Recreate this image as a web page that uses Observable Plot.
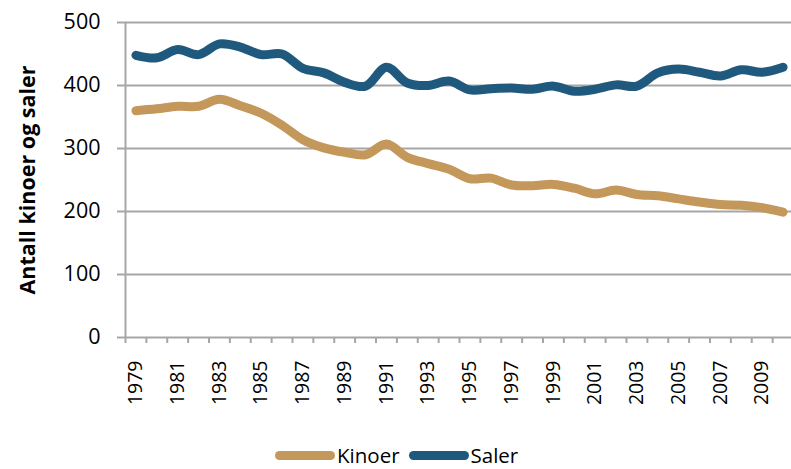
<!DOCTYPE html>
<html><head><meta charset="utf-8">
<script src="https://cdn.jsdelivr.net/npm/d3@7"></script>
<script src="https://cdn.jsdelivr.net/npm/@observablehq/plot@0.6"></script>
<style>
html,body{margin:0;padding:0;overflow:hidden;background:#fff;}
#chart{position:relative;width:791px;height:469px;font-family:"Open Sans",sans-serif;}
#legend{position:absolute;left:275px;top:442px;height:27px;display:flex;align-items:center;font-size:20.5px;line-height:27px;color:#000;}
.sw{width:60px;height:9px;border-radius:5px;margin-right:2px;}
.item{display:flex;align-items:center;margin-right:9px;height:27px;}
</style></head><body><div id="chart"></div>
<script>
const years = [1979,1980,1981,1982,1983,1984,1985,1986,1987,1988,1989,1990,1991,1992,1993,1994,1995,1996,1997,1998,1999,2000,2001,2002,2003,2004,2005,2006,2007,2008,2009,2010];
const kinoer = [360,363,367,367,378,368,356,337,314,301,294,290,307,286,276,267,252,253,242,241,243,237,228,234,227,225,220,215,211,210,206,199];
const saler  = [448,444,457,449,466,461,449,450,427,420,405,399,429,404,400,407,393,395,396,394,399,391,394,401,399,420,426,421,415,425,421,429];
const seriesNames = ["Kinoer","Saler"];
const seriesColors = ["#C4975A","#1F5A7E"];
const yTicks = [0,100,200,300,400,500];
const xLabelYears = [1979,1981,1983,1985,1987,1989,1991,1993,1995,1997,1999,2001,2003,2005,2007,2009];
const yTitle = "Antall kinoer og saler";

const data = [];
years.forEach((yr,i)=>{data.push({year:yr,value:kinoer[i],series:"Kinoer"});});
years.forEach((yr,i)=>{data.push({year:yr,value:saler[i],series:"Saler"});});
const boundaries = years.map(y=>y-0.5).concat([years[years.length-1]+0.5]);
const grid = "#A6A6A6";

const plot = Plot.plot({
  width: 791, height: 430,
  marginTop: 22, marginBottom: 93, marginLeft: 125, marginRight: 0,
  style: {fontFamily: '"Open Sans", sans-serif', background: "#fff", overflow: "visible"},
  x: {domain: [boundaries[0], boundaries[boundaries.length-1]], range: [125, 793]},
  y: {domain: [0, 500]},
  color: {domain: seriesNames, range: seriesColors},
  marks: [
    Plot.ruleY(yTicks.filter(v=>v>0), {stroke: grid, strokeWidth: 2}),
    Plot.ruleY([0], {stroke: grid, strokeWidth: 2}),
    Plot.ruleX([boundaries[0]], {stroke: grid, strokeWidth: 2}),
    Plot.axisY({ticks: yTicks, tickSize: 8, tickPadding: 17, fontSize: 21.5, stroke: grid, strokeWidth: 2, color: "#000", label: null, tickFormat: d=>String(d)}),
    Plot.axisX({ticks: boundaries, tickSize: 6, tickFormat: () => "", stroke: grid, strokeWidth: 2, label: null}),
    Plot.axisX({ticks: xLabelYears, tickSize: 0, tickPadding: 23, tickRotate: -90, fontSize: 19.5, color: "#000", label: null, tickFormat: d=>String(d)}),
    Plot.text([yTitle], {frameAnchor: "left", textAnchor: "middle", rotate: -90, dx: -97, fontSize: 21.5, fontWeight: "bold", fill: "#000"}),
    Plot.line(data, {x: "year", y: "value", stroke: "series", z: "series", curve: "catmull-rom", strokeWidth: 9, strokeLinecap: "round", strokeLinejoin: "round"})
  ]
});
const chart = document.getElementById("chart");
chart.appendChild(plot);
const legend = document.createElement("div");
legend.id = "legend";
seriesNames.forEach((n,i)=>{
  const it = document.createElement("div"); it.className = "item";
  const sw = document.createElement("div"); sw.className = "sw"; sw.style.background = seriesColors[i];
  const tx = document.createElement("span"); tx.textContent = n;
  it.appendChild(sw); it.appendChild(tx); legend.appendChild(it);
});
chart.appendChild(legend);
</script></body></html>
